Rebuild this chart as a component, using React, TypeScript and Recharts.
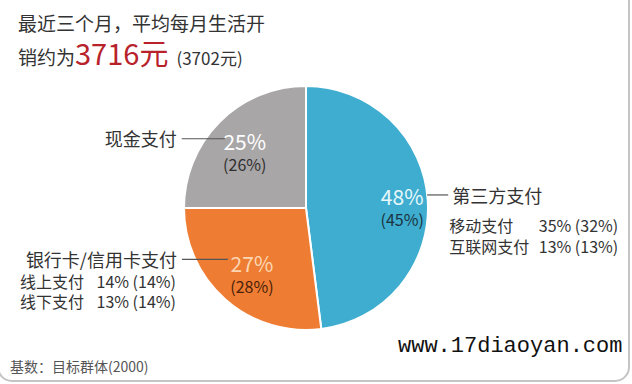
import React from 'react';
import { PieChart, Pie, Cell } from 'recharts';

const categories = ['第三方支付', '银行卡/信用卡支付', '现金支付'];
const shares = [48, 27, 25];
const prevShares = [45, 28, 26];
const sliceColors = ['#3eadcf', '#ee7d33', '#a8a6a7'];
const mainLabelColors = ['#e8f7fb', '#fcd6b2', '#ffffff'];
const subLabelColors = ['#1b3340', '#4a1f08', '#2f2f2f'];

const thirdPartyItems = ['移动支付', '互联网支付'];
const thirdPartyShares = [35, 13];
const thirdPartyPrev = [32, 13];
const bankItems = ['线上支付', '线下支付'];
const bankShares = [14, 13];
const bankPrev = [14, 14];

const titleLine1 = '最近三个月，平均每月生活开';
const titleLine2 = '销约为';
const avgSpend = 3716;
const prevAvgSpend = 3702;
const baseNote = '基数：目标群体(2000)';
const watermark = 'www.17diaoyan.com';

const data = categories.map((name, i) => ({
  name,
  value: shares[i],
  prev: prevShares[i],
}));

const FONT = '"Noto Sans CJK SC", "Noto Sans", sans-serif';
const RAD = Math.PI / 180;
const labelRadius = [0.79, 0.67, 0.71];

const renderLabel = (p: any) => {
  const { cx, cy, midAngle, outerRadius, index } = p;
  const r = outerRadius * labelRadius[index];
  const x = cx + r * Math.cos(-midAngle * RAD);
  const y = cy + r * Math.sin(-midAngle * RAD);
  const mainY = y - 6;
  const subY = y + 17;
  const inner = (
    <g>
      <text x={x} y={mainY} textAnchor="middle" dominantBaseline="central" fontSize={21} fill={mainLabelColors[index]} fontFamily={FONT}>
        {shares[index]}%
      </text>
      <text x={x} y={subY} textAnchor="middle" dominantBaseline="central" fontSize={16} fill={subLabelColors[index]} fontFamily={FONT}>
        ({prevShares[index]}%)
      </text>
    </g>
  );
  if (index === 0) {
    const ly = mainY - 1;
    return (
      <g key={`l${index}`}>
        {inner}
        <line x1={x + 25} y1={ly} x2={x + 46} y2={ly} stroke="#555" strokeWidth={1.2} />
        <text x={x + 50} y={ly} dominantBaseline="central" fontSize={18} fill="#333" fontFamily={FONT}>
          {categories[0]}
        </text>
        {thirdPartyItems.map((n, k) => (
          <g key={n}>
            <text x={x + 47} y={ly + 30 + k * 21} dominantBaseline="central" fontSize={16} fill="#333" fontFamily={FONT}>{n}</text>
            <text x={x + 216} y={ly + 30 + k * 21} textAnchor="end" dominantBaseline="central" fontSize={16} fill="#333" fontFamily={FONT}>
              {thirdPartyShares[k]}% ({thirdPartyPrev[k]}%)
            </text>
          </g>
        ))}
      </g>
    );
  }
  if (index === 1) {
    const ly = mainY - 4;
    return (
      <g key={`l${index}`}>
        {inner}
        <line x1={x - 70} y1={ly} x2={x - 24} y2={ly} stroke="#555" strokeWidth={1.2} />
        <text x={x - 75} y={ly} textAnchor="end" dominantBaseline="central" fontSize={18} fill="#333" fontFamily={FONT}>
          {categories[1]}
        </text>
        {bankItems.map((n, k) => (
          <g key={n}>
            <text x={x - 232} y={ly + 22 + k * 20} dominantBaseline="central" fontSize={16} fill="#333" fontFamily={FONT}>{n}</text>
            <text x={x - 76} y={ly + 22 + k * 20} textAnchor="end" dominantBaseline="central" fontSize={16} fill="#333" fontFamily={FONT}>
              {bankShares[k]}% ({bankPrev[k]}%)
            </text>
          </g>
        ))}
      </g>
    );
  }
  const ly = mainY - 2;
  return (
    <g key={`l${index}`}>
      {inner}
      <line x1={x - 63} y1={ly} x2={x - 20} y2={ly} stroke="#555" strokeWidth={1.2} />
      <text x={x - 68} y={ly - 1} textAnchor="end" dominantBaseline="central" fontSize={18} fill="#333" fontFamily={FONT}>
        {categories[2]}
      </text>
    </g>
  );
};

export default function App() {
  return (
    <div style={{ position: 'absolute', left: 0, top: 0, width: 632, height: 384, background: '#fff', overflow: 'hidden' }}>
      <div style={{ position: 'absolute', left: 0, top: 0 }}>
        <PieChart width={632} height={384} margin={{ top: 0, right: 0, bottom: 0, left: 0 }}>
          <Pie
            data={data}
            dataKey="value"
            cx={306}
            cy={208}
            outerRadius={122}
            startAngle={90}
            endAngle={-270}
            stroke="#ffffff"
            strokeWidth={2}
            label={renderLabel}
            labelLine={false}
            isAnimationActive={false}
          >
            {data.map((d, i) => (
              <Cell key={d.name} fill={sliceColors[i]} />
            ))}
          </Pie>
        </PieChart>
      </div>
      <svg width={632} height={384} style={{ position: 'absolute', left: 0, top: 0, pointerEvents: 'none' }}>
        <rect x={-2} y={-20} width={631} height={401} rx={14} ry={14} fill="none" stroke="#c4c4c4" strokeWidth={2} />
        <text x={18} y={31} fontSize={19} fill="#333" fontFamily={FONT}>{titleLine1}</text>
        <text x={18} y={65} fontFamily={FONT} fill="#333">
          <tspan fontSize={19}>{titleLine2}</tspan>
          <tspan fontSize={29} fill="#b8232b">{avgSpend}元</tspan>
          <tspan fontSize={17} dx={8}>({prevAvgSpend}元)</tspan>
        </text>
        <text x={10} y={372} fontSize={14} fill="#555" fontFamily={FONT}>{baseNote}</text>
        <text x={398} y={352} fontSize={22} fill="#111" fontFamily='"Liberation Mono", "DejaVu Sans Mono", monospace'>{watermark}</text>
      </svg>
    </div>
  );
}
